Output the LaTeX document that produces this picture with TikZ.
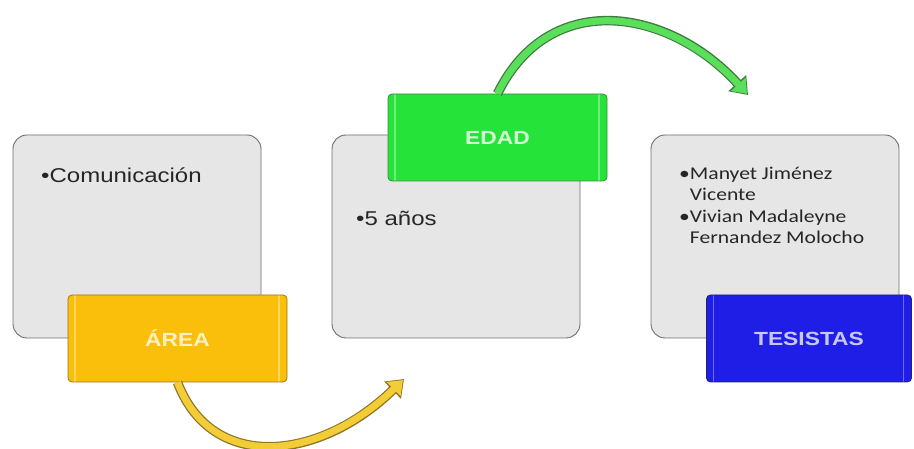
\documentclass[tikz,border=0pt]{standalone}
\usepackage{fontspec}
\setmainfont{Liberation Sans}[FakeStretch=1.2]
\newfontfamily\namefont{Carlito}[FakeStretch=1.2]
\usetikzlibrary{arrows.meta}

\definecolor{panelfill}{HTML}{E6E6E6}
\definecolor{panelline}{HTML}{6E6E6E}
\definecolor{areafill}{HTML}{F9BF0B}
\definecolor{arealine}{HTML}{9C7A10}
\definecolor{areaink}{HTML}{FFF0C4}
\definecolor{edadfill}{HTML}{26E33A}
\definecolor{edadline}{HTML}{3C8C3C}
\definecolor{edadink}{HTML}{D4FFD4}
\definecolor{tesisfill}{HTML}{1E1EE6}
\definecolor{tesisline}{HTML}{22227A}
\definecolor{tesisink}{HTML}{C8C8FF}
\definecolor{yellowbody}{HTML}{F3CD38}
\definecolor{yellowedge}{HTML}{8E7424}
\definecolor{greenbody}{HTML}{5ADF5A}
\definecolor{greenedge}{HTML}{3E7A3E}

\begin{document}
\begin{tikzpicture}[x=1pt,y=1pt]
\tikzstyle{every node}+=[inner sep=0pt]
\tikzstyle{panel}=[draw=panelline, fill=panelfill, line width=0.9pt, rounded corners=14pt, minimum width=248pt, minimum height=203pt]
\tikzstyle{tag}=[rounded corners=4pt, line width=0.8pt, minimum width=219pt, minimum height=87pt, font=\fontsize{19}{23}\selectfont\bfseries,
  path picture={\draw[white, opacity=0.35, line width=1.5pt] ([xshift=7pt]path picture bounding box.south west) -- ([xshift=7pt]path picture bounding box.north west);
                \draw[white, opacity=0.35, line width=1.5pt] ([xshift=-8pt]path picture bounding box.south east) -- ([xshift=-8pt]path picture bounding box.north east);}]
\tikzstyle{bodytext}=[anchor=west, font=\fontsize{20}{24}\selectfont, text=black!85]
\tikzstyle{bigarrow}=[line width=7pt, shorten >=1.5pt, -{Triangle[length=13pt,width=19pt]}]
\useasboundingbox (0,0) rectangle (914,449);
% panels
\node[panel] (areapanel) at (137,212.5) {};
\node[panel] (edadpanel) at (456,212.5) {};
\node[panel] (tesispanel) at (775,212.5) {};
\node[bodytext] (areatext) at (41,274) {\textbullet Comunicación};
\node[bodytext] (edadtext) at (356,231) {\textbullet 5 años};
\node[anchor=north west, align=left, font=\namefont\fontsize{18}{21}\selectfont, text=black!85] (tesistext) at (679,282)
  {\textbullet Manyet Jiménez\\\phantom{\textbullet}Vicente\\[1pt]\textbullet Vivian Madaleyne\\\phantom{\textbullet}Fernandez Molocho};
% tags
\node[tag, fill=areafill, draw=arealine, text=areaink] (arealabel) at (177.5,110.5) {ÁREA};
\node[tag, fill=edadfill, draw=edadline, text=edadink] (edadlabel) at (497.5,311.5) {EDAD};
\node[tag, fill=tesisfill, draw=tesisline, text=tesisink, minimum width=205pt] (tesislabel) at (809,110.5) {TESISTAS};
% arrows
\coordinate (areaend) at (404,70);
\coordinate (edadend) at (748,354);
\draw[bigarrow, draw=yellowbody, preaction={draw=yellowedge, line width=9.5pt, shorten >=0pt, -{Triangle[length=16pt,width=23pt]}}]
  (arealabel.south) .. controls (212,-24) and (320,-12) .. (areaend);
\draw[bigarrow, draw=greenbody, preaction={draw=greenedge, line width=9.5pt, shorten >=0pt, -{Triangle[length=16pt,width=23pt]}}]
  (edadlabel.north) .. controls (550,462) and (670,440) .. (edadend);
\end{tikzpicture}
\end{document}
